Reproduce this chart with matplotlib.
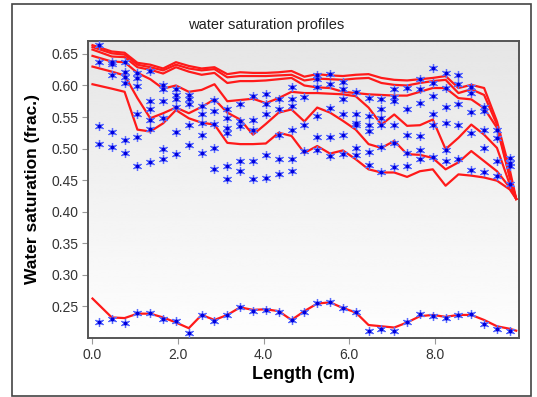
import numpy as np
import matplotlib
matplotlib.use("Agg")
import matplotlib.pyplot as plt
from matplotlib.patches import Rectangle

nan = np.nan

# model profile nodes (cm)
line_x = [0.0, 0.45, 0.75, 1.05, 1.35, 1.65, 1.95, 2.25, 2.55, 2.85, 3.15, 3.45,
          3.75, 4.05, 4.35, 4.65, 4.95, 5.25, 5.55, 5.85, 6.15, 6.45, 6.75, 7.05,
          7.35, 7.65, 7.95, 8.25, 8.55, 8.85, 9.15, 9.45, 9.75, 9.9]

# simulated saturation profiles (top band first)
sim_1 = [0.664, 0.654, 0.652, 0.636, 0.633, 0.627, 0.637, 0.631, 0.627, 0.629, 0.618, 0.621,
         0.620, 0.620, 0.621, 0.623, 0.614, 0.618, 0.616, 0.615, 0.617, 0.618, 0.612, 0.609,
         0.608, 0.610, 0.612, 0.615, 0.596, 0.601, 0.596, 0.543, 0.466, 0.420]
sim_2 = [0.661, 0.651, 0.649, 0.633, 0.629, 0.624, 0.633, 0.627, 0.624, 0.626, 0.613, 0.615,
         0.615, 0.615, 0.616, 0.617, 0.608, 0.611, 0.610, 0.609, 0.611, 0.612, 0.604, 0.601,
         0.600, 0.604, 0.607, 0.609, 0.588, 0.594, 0.585, 0.538, 0.455, 0.420]
sim_3 = [0.657, 0.646, 0.645, 0.629, 0.625, 0.619, 0.629, 0.622, 0.617, 0.620, 0.604, 0.607,
         0.607, 0.608, 0.610, 0.612, 0.600, 0.597, 0.596, 0.590, 0.588, 0.586, 0.585, 0.584,
         0.584, 0.590, 0.596, 0.596, 0.580, 0.578, 0.564, 0.533, 0.454, 0.420]
sim_4 = [0.647, 0.638, 0.637, 0.620, 0.610, 0.595, 0.600, 0.590, 0.593, 0.602, 0.575, 0.577,
         0.579, 0.572, 0.580, 0.590, 0.588, 0.588, 0.587, 0.586, 0.583, 0.565, 0.538, 0.554,
         0.536, 0.537, 0.546, 0.499, 0.517, 0.538, 0.522, 0.501, 0.443, 0.420]
sim_5 = [0.630, 0.622, 0.616, 0.580, 0.548, 0.556, 0.565, 0.556, 0.566, 0.578, 0.557, 0.546,
         0.522, 0.539, 0.557, 0.562, 0.543, 0.565, 0.557, 0.544, 0.530, 0.507, 0.501, 0.512,
         0.491, 0.490, 0.485, 0.467, 0.478, 0.496, 0.480, 0.464, 0.438, 0.420]
sim_6 = [0.602, 0.595, 0.590, 0.530, 0.527, 0.540, 0.561, 0.548, 0.541, 0.538, 0.509, 0.507,
         0.507, 0.508, 0.525, 0.520, 0.493, 0.504, 0.492, 0.497, 0.483, 0.467, 0.462, 0.462,
         0.455, 0.464, 0.467, 0.441, 0.459, 0.457, 0.454, 0.449, 0.435, 0.420]
sim_init = [0.262, 0.232, 0.231, 0.238, 0.238, 0.232, 0.224, 0.215, 0.236, 0.228, 0.236, 0.248,
            0.244, 0.245, 0.242, 0.228, 0.242, 0.254, 0.256, 0.247, 0.240, 0.220, 0.218, 0.216,
            0.224, 0.234, 0.236, 0.233, 0.236, 0.236, 0.228, 0.218, 0.214, 0.211]

# measured positions (cm)
meas_x = [0.15, 0.45, 0.75, 1.05, 1.35, 1.65, 1.95, 2.25, 2.55, 2.85, 3.15, 3.45, 3.75,
          4.05, 4.35, 4.65, 4.95, 5.25, 5.55, 5.85, 6.15, 6.45, 6.75, 7.05, 7.35, 7.65,
          7.95, 8.25, 8.55, 8.85, 9.15, 9.45, 9.75]

# measured saturation, per slice sorted high to low
meas_1 = [0.664, 0.638, 0.638, 0.620, 0.623, 0.601, 0.594, 0.585, 0.568, 0.577, 0.563, 0.570, 0.583,
          0.586, 0.579, 0.597, 0.582, 0.617, 0.618, 0.606, 0.589, 0.580, 0.579, 0.595, 0.596, 0.611,
          0.628, 0.620, 0.616, 0.598, 0.566, 0.530, 0.485]
meas_2 = [0.638, 0.634, 0.622, 0.612, 0.576, 0.594, 0.585, 0.579, 0.555, 0.560, 0.549, 0.544, 0.545,
          0.570, 0.563, 0.579, 0.538, 0.611, 0.602, 0.594, 0.554, 0.551, 0.562, 0.582, 0.562, 0.594,
          0.604, 0.596, 0.603, 0.588, 0.560, 0.517, 0.477]
meas_3 = [0.535, 0.616, 0.613, 0.599, 0.562, 0.576, 0.578, 0.571, 0.540, 0.539, 0.533, 0.536, 0.530,
          0.555, 0.521, 0.567, 0.496, 0.597, 0.565, 0.578, 0.541, 0.537, 0.549, 0.576, 0.522, 0.573,
          0.583, 0.566, 0.570, 0.558, 0.530, 0.481, 0.472]
meas_4 = [0.507, 0.527, 0.604, 0.555, 0.545, 0.549, 0.566, 0.537, 0.521, 0.501, 0.524, 0.481, 0.481,
          0.489, 0.484, 0.529, nan, 0.551, 0.518, 0.554, 0.538, 0.528, 0.537, 0.538, 0.493, 0.520,
          0.554, 0.541, 0.538, 0.524, 0.501, 0.456, 0.443]
meas_5 = [nan, 0.503, 0.514, 0.518, 0.531, 0.499, 0.526, 0.506, 0.493, 0.468, 0.473, 0.464, 0.452,
          0.453, 0.460, 0.483, nan, 0.518, 0.488, 0.521, 0.501, 0.495, 0.502, 0.509, 0.472, 0.498,
          0.537, 0.497, 0.483, 0.466, 0.463, nan, nan]
meas_6 = [nan, nan, 0.493, 0.473, 0.479, 0.484, 0.492, nan, nan, nan, 0.451, nan, nan,
          nan, nan, 0.464, nan, 0.498, nan, 0.492, 0.490, 0.474, 0.463, 0.471, nan, 0.484,
          0.486, 0.480, nan, nan, nan, nan, nan]
meas_init = [0.224, 0.230, 0.223, 0.239, 0.239, 0.230, 0.227, 0.208, 0.236, 0.226, 0.236, 0.249, 0.243,
             0.244, 0.241, 0.228, 0.241, 0.255, 0.257, 0.247, 0.240, 0.210, 0.213, 0.210, 0.224, 0.237,
             0.234, 0.231, 0.236, 0.238, 0.222, 0.213, 0.211]

plt.rcParams['font.family'] = ['Liberation Sans', 'DejaVu Sans']

fig = plt.figure(figsize=(5.37, 3.97), dpi=100)
fig.patch.set_facecolor('white')
ax = fig.add_axes([88 / 537, 1 - 338 / 397, 431 / 537, 297 / 397])

xmin, xmax = -0.105, 9.965
ymin, ymax = 0.1994, 0.6706

# grey at the top fading to white at the bottom
grad = np.linspace(0.90, 0.995, 256).reshape(-1, 1)
ax.imshow(grad, cmap='gray', vmin=0, vmax=1, aspect='auto',
          extent=[xmin, xmax, ymin, ymax], zorder=0, interpolation='bicubic')

for sim in [sim_1, sim_2, sim_3, sim_4, sim_5, sim_6, sim_init]:
    ax.plot(line_x, sim, color='#ff1a1a', lw=1.6, zorder=2)

for meas in [meas_1, meas_2, meas_3, meas_4, meas_5, meas_6, meas_init]:
    ax.plot(meas_x, meas, ls='none', marker=(6, 2, 0), ms=6.5, mew=0.9,
            mec='#5a6cff', zorder=3)
    ax.plot(meas_x, meas, ls='none', marker='o', ms=3, mec='none',
            mfc='#0000e0', zorder=4)

ax.set_xlim(xmin, xmax)
ax.set_ylim(ymin, ymax)
ax.set_xticks([0, 2, 4, 6, 8])
ax.set_xticklabels(['0.0', '2.0', '4.0', '6.0', '8.0'])
yt = [0.25, 0.30, 0.35, 0.40, 0.45, 0.50, 0.55, 0.60, 0.65]
ax.set_yticks(yt)
ax.set_yticklabels(['%.2f' % v for v in yt])
ax.tick_params(labelsize=10, labelcolor='#333333', color='#999999',
               length=4, width=0.8, pad=3)
for s in ax.spines.values():
    s.set_color('#555555')
    s.set_linewidth(1.4)

ax.set_xlabel('Length (cm)', fontsize=13, fontweight='bold', labelpad=3)
ax.set_ylabel('Water saturation (frac.)', fontsize=12.5, fontweight='bold', labelpad=8)

fig.text(0.495, 1 - 25 / 397, 'water saturation profiles', fontsize=10.5,
         ha='center', va='center', color='#222222')

# outer frame
fig.patches.append(Rectangle((12 / 537, 1 - 396 / 397), 519 / 537, 392 / 397,
                             transform=fig.transFigure, fill=False,
                             edgecolor='#444444', lw=1.2))

fig.savefig('out.png', dpi=100)
